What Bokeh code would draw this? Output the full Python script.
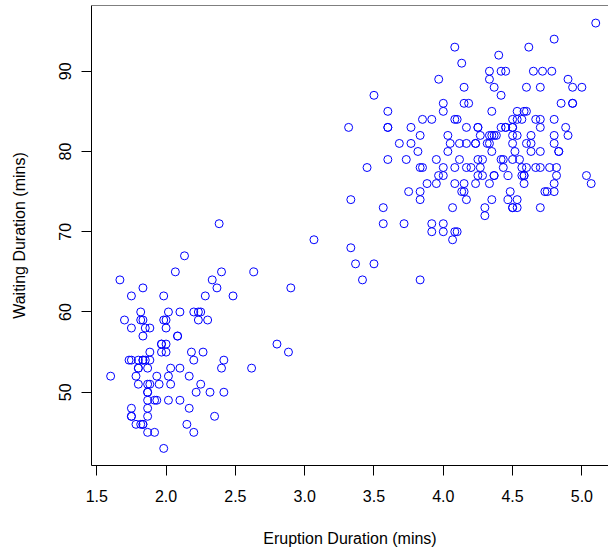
from bokeh.plotting import figure
from bokeh.models import FixedTicker, Span, Range1d, NumeralTickFormatter
from bokeh.embed import file_html
from bokeh.resources import INLINE

eruptions = [3.600, 1.800, 3.333, 2.283, 4.533, 2.883, 4.700, 3.600, 1.950, 4.350,
             1.833, 3.917, 4.200, 1.750, 4.700, 2.167, 1.750, 4.800, 1.600, 4.250,
             1.800, 1.750, 3.450, 3.067, 4.533, 3.600, 1.967, 4.083, 3.850, 4.433,
             4.300, 4.467, 3.367, 4.033, 3.833, 2.017, 1.867, 4.833, 1.833, 4.783,
             4.350, 1.883, 4.567, 1.750, 4.533, 3.317, 3.833, 2.100, 4.633, 2.000,
             4.800, 4.716, 1.833, 4.833, 1.733, 4.883, 3.717, 1.667, 4.567, 4.317,
             2.233, 4.500, 1.750, 4.800, 1.817, 4.400, 4.167, 4.700, 2.067, 4.700,
             4.033, 1.967, 4.500, 4.000, 1.983, 5.067, 2.017, 4.567, 3.883, 3.600,
             4.133, 4.333, 4.100, 2.633, 4.067, 4.933, 3.950, 4.517, 2.167, 4.000,
             2.200, 4.333, 1.867, 4.817, 1.833, 4.300, 4.667, 3.750, 1.867, 4.900,
             2.483, 4.367, 2.100, 4.500, 4.050, 1.867, 4.700, 1.783, 4.850, 3.683,
             4.733, 2.300, 4.900, 4.417, 1.700, 4.633, 2.317, 4.600, 1.817, 4.417,
             2.617, 4.067, 4.250, 1.967, 4.600, 3.767, 1.917, 4.500, 2.267, 4.650,
             1.867, 4.167, 2.800, 4.333, 1.833, 4.383, 1.883, 4.933, 2.033, 3.733,
             4.233, 2.233, 4.533, 4.817, 4.333, 1.983, 4.633, 2.017, 5.100, 1.800,
             5.033, 4.000, 2.400, 4.600, 3.567, 4.000, 4.500, 4.083, 1.800, 3.967,
             2.200, 4.150, 2.000, 3.833, 3.500, 4.583, 2.367, 5.000, 1.933, 4.617,
             1.917, 2.083, 4.583, 3.333, 4.167, 4.333, 4.500, 2.417, 4.000, 4.167,
             1.883, 4.583, 4.250, 3.767, 2.033, 4.433, 4.083, 1.833, 4.417, 2.183,
             4.800, 1.833, 4.800, 4.100, 3.966, 4.233, 3.500, 4.366, 2.250, 4.667,
             2.100, 4.350, 4.133, 1.867, 4.600, 1.783, 4.367, 3.850, 1.933, 4.500,
             2.383, 4.700, 1.867, 3.833, 3.417, 4.233, 2.400, 4.800, 2.000, 4.150,
             1.867, 4.267, 1.750, 4.483, 4.000, 4.117, 4.083, 4.267, 3.917, 4.550,
             4.083, 2.417, 4.183, 2.217, 4.450, 1.883, 1.850, 4.283, 3.950, 2.333,
             4.150, 2.350, 4.933, 2.900, 4.583, 3.833, 2.083, 4.367, 2.133, 4.350,
             2.200, 4.450, 3.567, 4.500, 4.150, 3.817, 3.917, 4.450, 2.000, 4.283,
             4.767, 4.533, 1.850, 4.250, 1.983, 2.250, 4.750, 4.117, 2.150, 4.417,
             1.817, 4.467]

waiting = [79, 54, 74, 62, 85, 55, 88, 85, 51, 85, 54, 84, 78, 47, 83, 52, 62, 84, 52, 79,
           51, 47, 78, 69, 74, 83, 55, 76, 78, 79, 73, 77, 66, 80, 74, 52, 48, 80, 59, 90,
           80, 58, 84, 58, 73, 83, 64, 53, 82, 59, 75, 90, 54, 80, 54, 83, 71, 64, 77, 81,
           59, 84, 48, 82, 60, 92, 78, 78, 65, 73, 82, 56, 79, 71, 62, 76, 60, 78, 76, 83,
           75, 82, 70, 65, 73, 88, 76, 80, 48, 86, 60, 90, 50, 78, 63, 72, 84, 75, 51, 82,
           62, 88, 49, 83, 81, 47, 84, 52, 86, 81, 75, 59, 89, 79, 59, 81, 50, 85, 59, 87,
           53, 69, 77, 56, 88, 81, 45, 82, 55, 90, 45, 83, 56, 89, 46, 82, 51, 86, 53, 79,
           81, 60, 82, 77, 76, 59, 80, 49, 96, 53, 77, 77, 65, 81, 71, 70, 81, 93, 53, 89,
           45, 86, 58, 78, 66, 76, 63, 88, 52, 93, 49, 57, 77, 68, 81, 81, 73, 50, 85, 74,
           55, 77, 83, 83, 51, 78, 84, 46, 83, 55, 81, 57, 76, 84, 77, 81, 87, 77, 51, 78,
           60, 82, 91, 53, 78, 46, 77, 84, 49, 83, 71, 80, 49, 75, 64, 76, 53, 94, 55, 76,
           50, 82, 54, 75, 78, 79, 78, 78, 70, 79, 70, 54, 86, 50, 90, 54, 54, 77, 79, 64,
           75, 47, 86, 63, 85, 82, 57, 82, 67, 74, 54, 83, 73, 73, 88, 80, 71, 83, 56, 79,
           78, 84, 58, 83, 43, 60, 75, 81, 46, 90, 46, 74]

x_ticks = [1.5, 2.0, 2.5, 3.0, 3.5, 4.0, 4.5, 5.0]
y_ticks = [50, 60, 70, 80, 90]
x_label = "Eruption Duration (mins)"
y_label = "Waiting Duration (mins)"

FONT = "Liberation Sans"
Y_TOP = 98.19

p = figure(width=608, height=556, output_backend="svg", toolbar_location=None,
           x_range=Range1d(1.462, 5.192), y_range=Range1d(40.87, Y_TOP),
           min_border_left=91, min_border_right=0, min_border_top=5, min_border_bottom=91)

p.scatter(eruptions, waiting, marker="circle", size=8, fill_color=None,
          line_color="#0000FF", line_width=1)

p.outline_line_color = None
p.xgrid.visible = False
p.ygrid.visible = False
p.background_fill_color = "white"
p.border_fill_color = "white"

top_border = Span(location=Y_TOP, dimension="width", line_color="black", line_width=1)
p.add_layout(top_border)

for ax, ticks in ((p.xaxis[0], x_ticks), (p.yaxis[0], y_ticks)):
    ax.ticker = FixedTicker(ticks=ticks)
    ax.major_tick_out = 10
    ax.major_tick_in = 0
    ax.minor_tick_out = 0
    ax.minor_tick_in = 0
    ax.axis_line_color = "black"
    ax.major_tick_line_color = "black"
    ax.major_label_text_font = FONT
    ax.major_label_text_font_size = "16px"
    ax.major_label_text_color = "black"
    ax.axis_label_text_font = FONT
    ax.axis_label_text_font_size = "16px"
    ax.axis_label_text_font_style = "normal"
    ax.axis_label_text_color = "black"

p.xaxis[0].formatter = NumeralTickFormatter(format="0.0")
p.yaxis[0].formatter = NumeralTickFormatter(format="0")
p.xaxis[0].axis_label = x_label
p.yaxis[0].axis_label = y_label
p.xaxis[0].major_label_standoff = 14
p.xaxis[0].axis_label_standoff = 25
p.yaxis[0].major_label_orientation = "vertical"
p.yaxis[0].major_label_standoff = 10
p.yaxis[0].axis_label_standoff = 29

open("out.html", "w").write(file_html(p, INLINE))
